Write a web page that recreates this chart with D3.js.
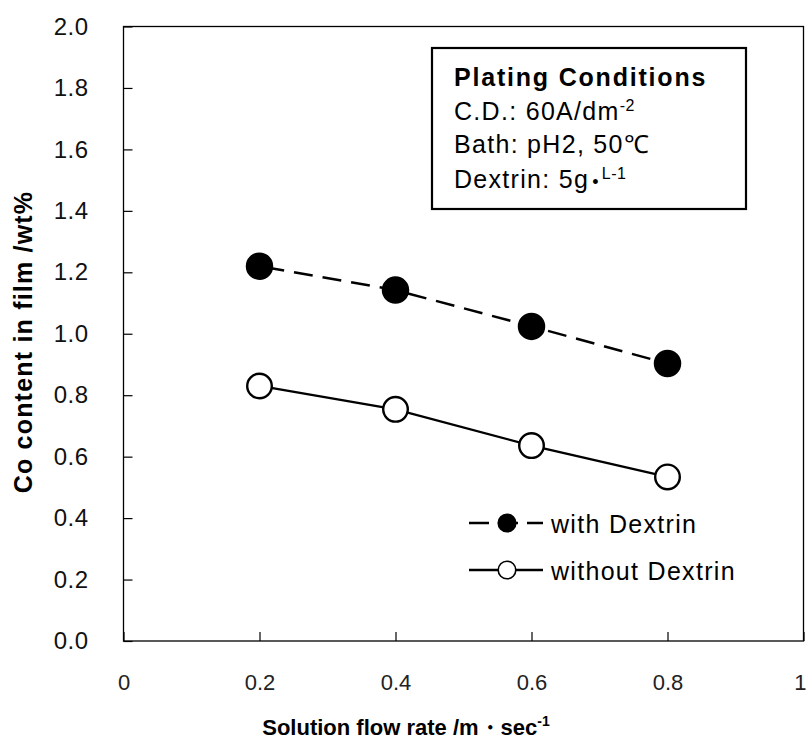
<!DOCTYPE html>
<html><head><meta charset="utf-8">
<script src="https://cdn.jsdelivr.net/npm/d3@7"></script>
<style>body{margin:0;background:#fff}svg{display:block;font-family:"Liberation Sans",Arial,sans-serif}</style>
</head><body>
<script>
const flowRates = [0.2, 0.4, 0.6, 0.8];
const withDextrin = [1.220, 1.142, 1.024, 0.903];
const withoutDextrin = [0.830, 0.754, 0.636, 0.534];
const xTicks = [0, 0.2, 0.4, 0.6, 0.8, 1];
const yTicks = [0, 0.2, 0.4, 0.6, 0.8, 1.0, 1.2, 1.4, 1.6, 1.8, 2.0];
const seriesNames = ["with Dextrin", "without Dextrin"];

const W = 806, H = 742;
const m = {l: 123.5, r: 2.5, t: 26.5, b: 101};
const svg = d3.select("body").append("svg").attr("width", W).attr("height", H);
const x = d3.scaleLinear().domain([0, 1]).range([m.l, W - m.r]);
const y = d3.scaleLinear().domain([0, 2]).range([H - m.b, m.t]);

// frame
svg.append("rect").attr("x", x(0)).attr("y", y(2)).attr("width", x(1) - x(0)).attr("height", y(0) - y(2))
  .attr("fill", "none").attr("stroke", "#000").attr("stroke-width", 1.3);

// axes
const xAxis = svg.append("g").attr("transform", `translate(0,${y(0)})`)
  .call(d3.axisBottom(x).tickValues(xTicks).tickSize(-9).tickPadding(33).tickFormat(d => d === 0 ? "0" : d === 1 ? "1" : d3.format(".1f")(d)));
xAxis.select(".domain").remove();
xAxis.selectAll("line").attr("stroke", "#000").attr("stroke-width", 1.2);
xAxis.selectAll("text").attr("font-size", 22).attr("fill", "#222").attr("dy", "0.71em");
xAxis.selectAll(".tick").filter(d => d === 1).select("text").attr("text-anchor", "end").attr("x", 2.5);

const yAxis = svg.append("g").attr("transform", `translate(${x(0)},0)`)
  .call(d3.axisLeft(y).tickValues(yTicks).tickSize(-9).tickPadding(35).tickFormat(d3.format(".1f")));
yAxis.select(".domain").remove();
yAxis.selectAll("line").attr("stroke", "#000").attr("stroke-width", 1.2);
yAxis.selectAll("text").attr("font-size", 24).attr("fill", "#111").attr("letter-spacing", 0.5);

// axis titles
const xt = svg.append("text").attr("x", 406).attr("y", 735).attr("text-anchor", "middle")
  .attr("font-size", 22).attr("font-weight", "bold");
xt.append("tspan").text("Solution flow rate /m\u30fbsec");
xt.append("tspan").attr("dy", -9).attr("font-size", 14).text("-1");

svg.append("text").attr("transform", `translate(32,${342}) rotate(-90)`)
  .attr("text-anchor", "middle").attr("font-size", 25).attr("font-weight", "bold").attr("letter-spacing", 1.2)
  .text("Co content in film /wt%");

// lines
const data1 = flowRates.map((f, i) => [f, withDextrin[i]]);
const data2 = flowRates.map((f, i) => [f, withoutDextrin[i]]);
const line = d3.line().x(d => x(d[0])).y(d => y(d[1]));
svg.append("path").datum(data1).attr("d", line).attr("fill", "none").attr("stroke", "#000").attr("stroke-width", 2.5).attr("stroke-dasharray", "19,10").attr("stroke-dashoffset", -6);
svg.append("path").datum(data2).attr("d", line).attr("fill", "none").attr("stroke", "#000").attr("stroke-width", 2.3);
svg.selectAll(".p1").data(data1).join("circle").attr("cx", d => x(d[0])).attr("cy", d => y(d[1])).attr("r", 13).attr("fill", "#000").attr("stroke", "#000").attr("stroke-width", 1.5);
svg.selectAll(".p2").data(data2).join("circle").attr("cx", d => x(d[0])).attr("cy", d => y(d[1])).attr("r", 12.3).attr("fill", "#fff").attr("stroke", "#000").attr("stroke-width", 2.4);

// legend
const lg = [{name: seriesNames[0], y: 523, fill: "#000", dash: "20,9"}, {name: seriesNames[1], y: 570, fill: "#fff", dash: null}];
lg.forEach(d => {
  svg.append("line").attr("x1", 469).attr("x2", 543).attr("y1", d.y).attr("y2", d.y).attr("stroke", "#000").attr("stroke-width", 2.3)
    .attr("stroke-dasharray", d.dash);
  svg.append("circle").attr("cx", 507).attr("cy", d.y).attr("r", 8.8).attr("fill", d.fill).attr("stroke", "#000").attr("stroke-width", 1.6);
  svg.append("text").attr("x", 551).attr("y", d.y + 9.5).attr("font-size", 25).attr("letter-spacing", 1.3).text(d.name);
});

// conditions box
svg.append("rect").attr("x", 432).attr("y", 48).attr("width", 314).attr("height", 161).attr("fill", "#fff").attr("stroke", "#000").attr("stroke-width", 2.2);
const tx = 454;
svg.append("text").attr("x", tx).attr("y", 86).attr("font-size", 25).attr("font-weight", "bold").attr("letter-spacing", 1.8).text("Plating Conditions");
const t2 = svg.append("text").attr("x", tx).attr("y", 120).attr("font-size", 25).attr("letter-spacing", 1.3);
t2.append("tspan").text("C.D.: 60A/dm");
t2.append("tspan").attr("dy", -9).attr("font-size", 16).attr("letter-spacing", 0.5).text("-2");
svg.append("text").attr("x", tx).attr("y", 153).attr("font-size", 25).attr("letter-spacing", 1.3).text("Bath: pH2, 50\u2103");
const t4 = svg.append("text").attr("x", tx).attr("y", 188).attr("font-size", 25).attr("letter-spacing", 1.3);
t4.append("tspan").text("Dextrin: 5g");
t4.append("tspan").attr("dx", 3).attr("font-size", 18).text("\u2022");
t4.append("tspan").attr("dy", -9).attr("font-size", 16).attr("dx", 2).attr("letter-spacing", 0.5).text("L-1");
</script>
</body></html>
